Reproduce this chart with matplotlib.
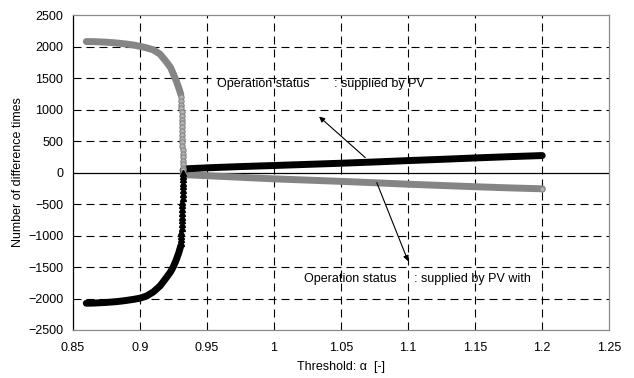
import matplotlib
matplotlib.use("Agg")
import matplotlib.pyplot as plt

plt.rcParams['font.family'] = ['Liberation Sans', 'DejaVu Sans']

# Threshold alpha and difference counts, grey series ("supplied by PV")
gray_curve_x = [0.860, 0.865, 0.870, 0.875, 0.880, 0.885, 0.890, 0.895, 0.900,
                0.905, 0.910, 0.915, 0.920, 0.923, 0.925, 0.927, 0.929, 0.9305]
gray_curve_y = [2080, 2079, 2075, 2070, 2062, 2052, 2040, 2025, 2005,
                1980, 1948, 1880, 1750, 1660, 1560, 1460, 1340, 1240]
gray_jump_x = [0.9306, 0.9307, 0.9308, 0.9309, 0.9310, 0.9311, 0.9312, 0.9313,
               0.9313, 0.9314, 0.9315, 0.9316, 0.9316, 0.9317, 0.9318, 0.9318,
               0.9319, 0.9320, 0.9320, 0.9321, 0.9322, 0.9322]
gray_jump_y = [1200, 1140, 1080, 1020, 960, 900, 840, 780, 720, 660, 600, 540,
               480, 420, 360, 300, 240, 180, 130, 80, 40, 0]
gray_tail_x = [0.9322, 0.935, 0.950, 0.975, 1.000, 1.025, 1.050, 1.075, 1.100,
               1.125, 1.150, 1.175, 1.200]
gray_tail_y = [-20, -35, -50, -75, -100, -120, -140, -162, -185, -205, -225,
               -243, -258]

# Black series ("supplied by PV with battery")
black_curve_x = [0.860, 0.865, 0.870, 0.875, 0.880, 0.885, 0.890, 0.895, 0.900,
                 0.905, 0.910, 0.915, 0.920, 0.923, 0.925, 0.927, 0.929, 0.9305]
black_curve_y = [-2075, -2073, -2068, -2062, -2054, -2044, -2030, -2014, -1995,
                 -1960, -1895, -1800, -1660, -1570, -1490, -1390, -1270, -1160]
black_jump_x = [0.9306, 0.9307, 0.9308, 0.9309, 0.9310, 0.9311, 0.9312, 0.9313,
                0.9314, 0.9315, 0.9316, 0.9317, 0.9318, 0.9319, 0.9320, 0.9320,
                0.9321, 0.9321, 0.9322, 0.9322]
black_jump_y = [-1120, -1060, -1000, -940, -880, -820, -760, -700, -640, -580,
                -520, -460, -400, -340, -280, -220, -160, -100, -50, 0]
black_tail_x = [0.9322, 0.935, 0.950, 0.975, 1.000, 1.025, 1.050, 1.075, 1.100,
                1.125, 1.150, 1.175, 1.200]
black_tail_y = [35, 60, 75, 95, 112, 130, 148, 168, 190, 210, 232, 252, 270]

x_ticks = [0.85, 0.9, 0.95, 1, 1.05, 1.1, 1.15, 1.2, 1.25]
x_tick_labels = ["0.85", "0.9", "0.95", "1", "1.05", "1.1", "1.15", "1.2", "1.25"]
y_ticks = [-2500, -2000, -1500, -1000, -500, 0, 500, 1000, 1500, 2000, 2500]

GRAY = "#858585"
BAND = 5.0

fig = plt.figure(figsize=(6.34, 3.78), dpi=100)
ax = fig.add_axes([0.115, 0.127, 0.846, 0.833])

ax.set_xlim(0.85, 1.25)
ax.set_ylim(-2500, 2500)

# dashed grid
for xv in x_ticks[1:-1]:
    ax.axvline(xv, color="black", lw=0.8, ls=(0, (7.2, 4.5)), zorder=1)
for yv in y_ticks[1:-1]:
    if yv != 0:
        ax.axhline(yv, color="black", lw=0.8, ls=(0, (7.2, 4.5)), zorder=1)
ax.axhline(0, color="black", lw=0.9, zorder=2)

# grey series
ax.plot(gray_curve_x, gray_curve_y, color=GRAY, lw=BAND, solid_capstyle="round",
        solid_joinstyle="round", zorder=3)
ax.plot(gray_tail_x, gray_tail_y, color=GRAY, lw=BAND, solid_capstyle="round",
        zorder=3)
ax.plot(gray_jump_x, gray_jump_y, ls="none", marker="o", ms=3.8,
        mfc="#b4b4b4", mec=GRAY, mew=0.8, zorder=4)
ax.plot(gray_tail_x[-1:], gray_tail_y[-1:], ls="none", marker="o", ms=3.6,
        mfc="#b4b4b4", mec=GRAY, mew=0.8, zorder=5)

# black series
ax.plot(black_curve_x, black_curve_y, color="black", lw=BAND,
        solid_capstyle="round", solid_joinstyle="round", zorder=3)
ax.plot(black_tail_x, black_tail_y, color="black", lw=BAND,
        solid_capstyle="round", zorder=3)
ax.plot(black_jump_x, black_jump_y, ls="none", marker="^", ms=3.8,
        mfc="black", mec="black", zorder=4)

# annotations
ax.text(0.9575, 1413, "Operation status       : supplied by PV", fontsize=9,
        ha="left", va="center", zorder=6)
ax.annotate("", xy=(1.0336, 889), xytext=(1.068, 238),
            arrowprops=dict(arrowstyle="-|>", color="black", lw=0.8,
                            mutation_scale=8, shrinkA=0, shrinkB=0), zorder=6)
ax.text(1.0224, -1698, "Operation status     : supplied by PV with", fontsize=9,
        ha="left", va="center", zorder=6)
ax.annotate("", xy=(1.1, -1408), xytext=(1.0766, -159),
            arrowprops=dict(arrowstyle="-|>", color="black", lw=0.8,
                            mutation_scale=8, shrinkA=0, shrinkB=0), zorder=6)

ax.set_xticks(x_ticks)
ax.set_xticklabels(x_tick_labels)
ax.set_yticks(y_ticks)
ax.tick_params(axis="both", length=0, labelsize=9)
ax.tick_params(axis="x", pad=9)
ax.tick_params(axis="y", pad=7)

for side in ["top", "right", "bottom"]:
    ax.spines[side].set_color("#8a8a8a")
    ax.spines[side].set_linewidth(0.9)
ax.spines["left"].set_color("black")
ax.spines["left"].set_linewidth(0.9)

ax.set_xlabel("Threshold: α  [-]", fontsize=9, labelpad=5)
ax.set_ylabel("Number of difference times", fontsize=9, labelpad=3)

fig.savefig("out.png", dpi=100)
